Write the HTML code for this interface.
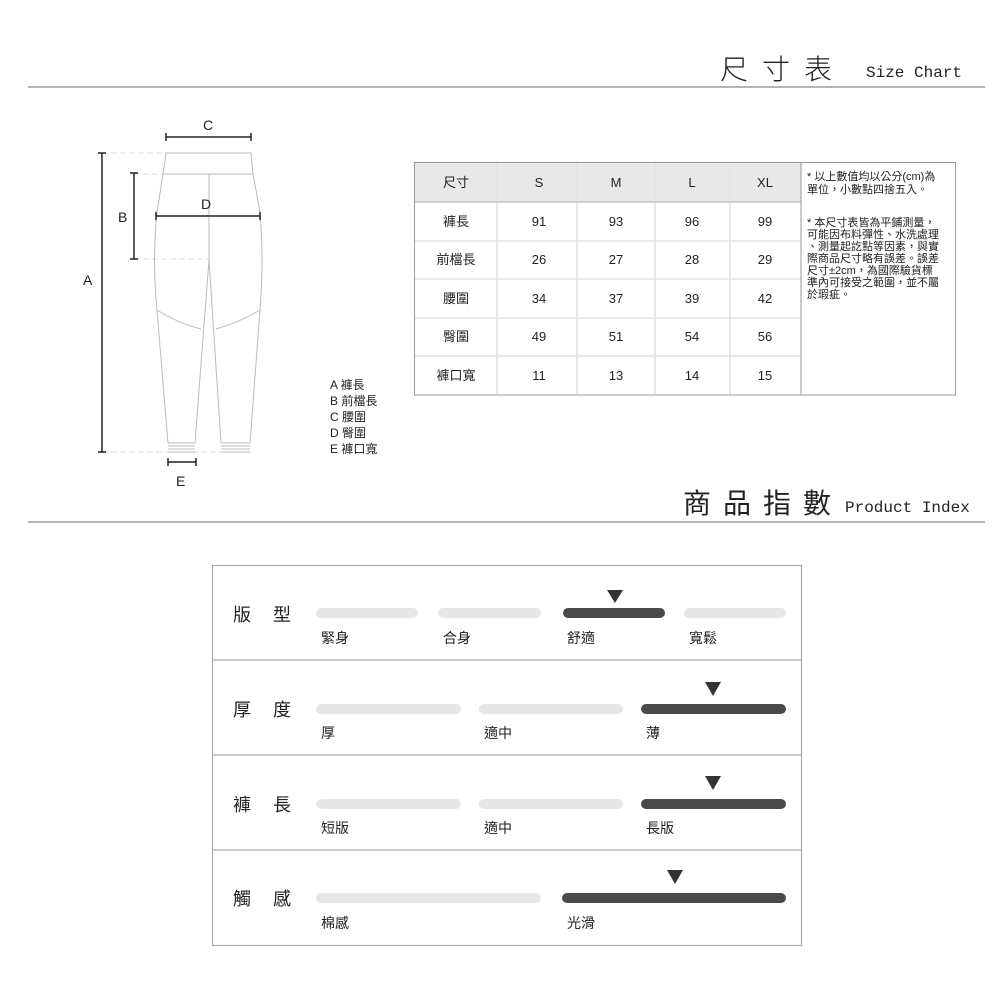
<!DOCTYPE html>
<html><head><meta charset="utf-8"><style>
html,body{margin:0;padding:0;background:#fff;width:1000px;height:1000px;overflow:hidden}
svg text{font-family:"Liberation Sans","Noto Sans CJK TC",sans-serif;fill:#222}
</style></head><body>
<svg width="1000" height="1000" viewBox="0 0 1000 1000" xmlns="http://www.w3.org/2000/svg">
<text x="720" y="79" font-size="28" letter-spacing="14" style="font-weight:300">尺寸表</text>
<text x="866" y="77" font-size="16" style="font-family:'Liberation Mono',monospace">Size Chart</text>
<line x1="28" y1="87" x2="985" y2="87" stroke="#888" stroke-width="1.2"/>
<text x="683" y="513" font-size="28" letter-spacing="12">商品指數</text>
<text x="845" y="512" font-size="16" style="font-family:'Liberation Mono',monospace">Product Index</text>
<line x1="28" y1="522" x2="985" y2="522" stroke="#888" stroke-width="1.2"/>

<g fill="none" stroke="#bbb" stroke-width="1">
<line x1="102" y1="153" x2="166" y2="153" stroke-dasharray="6,3" stroke="#ddd"/>
<line x1="134" y1="174" x2="163" y2="174" stroke-dasharray="6,3" stroke="#ddd"/>
<line x1="134" y1="259" x2="209" y2="259" stroke-dasharray="6,3" stroke="#ddd"/>
<line x1="102" y1="452" x2="250" y2="452" stroke-dasharray="6,3" stroke="#ddd"/>
<path d="M166 153 L251 153 L253 174 L163 174 Z"/>
<path d="M163 174 L157 212 Q152 260 157 310 L168 443"/>
<path d="M253 174 L260 212 Q264 260 260 310 L250 443"/>
<path d="M209 174 L209 260 L195 443"/>
<path d="M209 260 L221 443"/>
<path d="M157 310 Q180 324 201 329"/>
<path d="M216 329 Q240 322 260 310"/>
<path d="M168 443 L195 443 M168 446 L195 446 M168 449 L195 449 M168 452 L195 452"/>
<path d="M221 443 L250 443 M221 446 L250 446 M221 449 L250 449 M221 452 L250 452"/>
</g>
<g stroke="#222" stroke-width="1.5">
<line x1="166" y1="137" x2="251" y2="137"/><line x1="166" y1="133" x2="166" y2="141"/><line x1="251" y1="133" x2="251" y2="141"/>
<line x1="156" y1="216" x2="260" y2="216"/><line x1="156" y1="212" x2="156" y2="220"/><line x1="260" y1="212" x2="260" y2="220"/>
<line x1="102" y1="153" x2="102" y2="452"/><line x1="98" y1="153" x2="106" y2="153"/><line x1="98" y1="452" x2="106" y2="452"/>
<line x1="134" y1="173" x2="134" y2="259"/><line x1="130" y1="173" x2="138" y2="173"/><line x1="130" y1="259" x2="138" y2="259"/>
<line x1="168" y1="462" x2="196" y2="462"/><line x1="168" y1="458" x2="168" y2="466"/><line x1="196" y1="458" x2="196" y2="466"/>
</g>
<g font-size="14">
<text x="203" y="130">C</text><text x="201" y="209">D</text><text x="83" y="285">A</text><text x="118" y="222">B</text><text x="176" y="486">E</text>
</g>
<g font-size="12">
<text x="330" y="389">A 褲長</text><text x="330" y="405">B 前檔長</text><text x="330" y="421">C 腰圍</text><text x="330" y="437">D 臀圍</text><text x="330" y="453">E 褲口寬</text>
</g>

<rect x="414" y="162" width="387" height="40" fill="#e8e8e8"/>
<g stroke="#e2e2e2" stroke-width="1.5">
<line x1="497" y1="162" x2="497" y2="395"/><line x1="577" y1="162" x2="577" y2="395"/><line x1="655" y1="162" x2="655" y2="395"/><line x1="730" y1="162" x2="730" y2="395"/>
<line x1="414" y1="241" x2="801" y2="241"/><line x1="414" y1="279" x2="801" y2="279"/><line x1="414" y1="318" x2="801" y2="318"/><line x1="414" y1="356" x2="801" y2="356"/>
</g>
<line x1="414" y1="202" x2="801" y2="202" stroke="#aaa"/>
<rect x="414.5" y="162.5" width="541" height="232.5" fill="none" stroke="#999"/>
<line x1="801" y1="162" x2="801" y2="395" stroke="#999"/>
<g font-size="13" text-anchor="middle">
<text x="456" y="187">尺寸</text><text x="539" y="187">S</text><text x="616" y="187">M</text><text x="692" y="187">L</text><text x="765" y="187">XL</text>
<text x="456" y="226">褲長</text><text x="539" y="226">91</text><text x="616" y="226">93</text><text x="692" y="226">96</text><text x="765" y="226">99</text>
<text x="456" y="264">前檔長</text><text x="539" y="264">26</text><text x="616" y="264">27</text><text x="692" y="264">28</text><text x="765" y="264">29</text>
<text x="456" y="303">腰圍</text><text x="539" y="303">34</text><text x="616" y="303">37</text><text x="692" y="303">39</text><text x="765" y="303">42</text>
<text x="456" y="341">臀圍</text><text x="539" y="341">49</text><text x="616" y="341">51</text><text x="692" y="341">54</text><text x="765" y="341">56</text>
<text x="456" y="380">褲口寬</text><text x="539" y="380">11</text><text x="616" y="380">13</text><text x="692" y="380">14</text><text x="765" y="380">15</text>
</g>
<g font-size="11">
<text x="807" y="180">* 以上數值均以公分(cm)為</text>
<text x="807" y="193">單位，小數點四捨五入。</text>
<text x="807" y="226">* 本尺寸表皆為平鋪測量，</text>
<text x="807" y="238">可能因布料彈性、水洗處理</text>
<text x="807" y="250">、測量起訖點等因素，與實</text>
<text x="807" y="262">際商品尺寸略有誤差。誤差</text>
<text x="807" y="274">尺寸±2cm，為國際驗貨標</text>
<text x="807" y="286">準內可接受之範圍，並不屬</text>
<text x="807" y="298">於瑕疵。</text>
</g>

<rect x="212.5" y="565.5" width="589" height="380" fill="none" stroke="#aaa" stroke-width="1.2"/>
<g stroke="#aaa" stroke-width="1.2"><line x1="212" y1="660" x2="802" y2="660"/><line x1="212" y1="755" x2="802" y2="755"/><line x1="212" y1="850" x2="802" y2="850"/></g>
<g stroke-linecap="round" stroke-width="10">
<line x1="321" y1="613" x2="413" y2="613" stroke="#e6e6e6"/><line x1="443" y1="613" x2="536" y2="613" stroke="#e6e6e6"/><line x1="568" y1="613" x2="660" y2="613" stroke="#4a4a4a"/><line x1="689" y1="613" x2="781" y2="613" stroke="#e6e6e6"/>
<line x1="321" y1="709" x2="456" y2="709" stroke="#e6e6e6"/><line x1="484" y1="709" x2="618" y2="709" stroke="#e6e6e6"/><line x1="646" y1="709" x2="781" y2="709" stroke="#4a4a4a"/>
<line x1="321" y1="804" x2="456" y2="804" stroke="#e6e6e6"/><line x1="484" y1="804" x2="618" y2="804" stroke="#e6e6e6"/><line x1="646" y1="804" x2="781" y2="804" stroke="#4a4a4a"/>
<line x1="321" y1="898" x2="536" y2="898" stroke="#e6e6e6"/><line x1="567" y1="898" x2="781" y2="898" stroke="#4a4a4a"/>
</g>
<g fill="#333">
<polygon points="607,590 623,590 615,603"/>
<polygon points="705,682 721,682 713,696"/>
<polygon points="705,776 721,776 713,790"/>
<polygon points="667,870 683,870 675,884"/>
</g>
<g font-size="18">
<text x="233" y="621">版</text><text x="273" y="621">型</text>
<text x="233" y="716">厚</text><text x="273" y="716">度</text>
<text x="233" y="811">褲</text><text x="273" y="811">長</text>
<text x="233" y="905">觸</text><text x="273" y="905">感</text>
</g>
<g font-size="14">
<text x="321" y="643">緊身</text><text x="443" y="643">合身</text><text x="567" y="643">舒適</text><text x="689" y="643">寬鬆</text>
<text x="321" y="738">厚</text><text x="484" y="738">適中</text><text x="646" y="738">薄</text>
<text x="321" y="833">短版</text><text x="484" y="833">適中</text><text x="646" y="833">長版</text>
<text x="321" y="928">棉感</text><text x="567" y="928">光滑</text>
</g>
</svg>
</body></html>
